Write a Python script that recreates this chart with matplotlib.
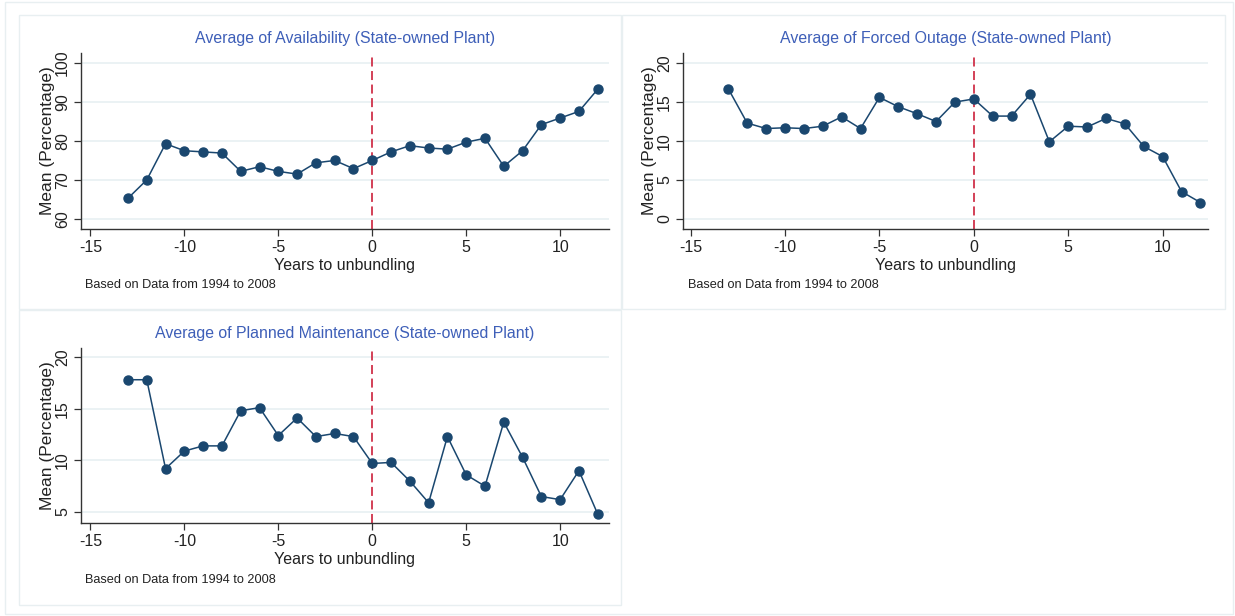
import matplotlib
matplotlib.use("Agg")
import matplotlib.pyplot as plt
from matplotlib.patches import Rectangle

plt.rcParams['font.family'] = ['Liberation Sans', 'DejaVu Sans']
plt.rcParams['axes.unicode_minus'] = False

years = list(range(-13, 13))

availability = [65.3, 70.0, 79.3, 77.5, 77.2, 76.9, 72.2, 73.4, 72.2, 71.5,
                74.4, 75.0, 72.9, 75.0, 77.2, 78.8, 78.2, 77.9, 79.7, 80.7,
                73.5, 77.5, 84.2, 85.9, 87.6, 93.3]

forced_outage = [16.7, 12.3, 11.6, 11.7, 11.6, 11.9, 13.1, 11.6, 15.6, 14.4,
                 13.5, 12.5, 15.0, 15.4, 13.2, 13.2, 16.0, 9.9, 11.9, 11.8,
                 12.9, 12.2, 9.3, 8.0, 3.5, 2.1]

planned_maint = [17.8, 17.8, 9.2, 10.9, 11.4, 11.4, 14.8, 15.1, 12.4, 14.1,
                 12.3, 12.6, 12.3, 9.7, 9.8, 8.0, 5.9, 12.3, 8.6, 7.5,
                 13.7, 10.3, 6.5, 6.2, 9.0, 4.8]

titles = ["Average of Availability (State-owned Plant)",
          "Average of Forced Outage (State-owned Plant)",
          "Average of Planned Maintenance (State-owned Plant)"]
x_ticks = [-15, -10, -5, 0, 5, 10]
y_ticks_list = [[60, 70, 80, 90, 100], [0, 5, 10, 15, 20], [5, 10, 15, 20]]
series = [availability, forced_outage, planned_maint]
note = "Based on Data from 1994 to 2008"

W, H = 1235, 616
fig = plt.figure(figsize=(W / 100, H / 100), dpi=100)

def fx(px):
    return px / W

def fy(py):
    return 1 - py / H

border_col = "#e8eff1"
# outer border
fig.patches.append(Rectangle((fx(5), fy(614)), fx(1228), 612 / H, transform=fig.transFigure,
                             fill=False, edgecolor=border_col, linewidth=1))

# panel boxes (px) and axes boxes (px)
panels = [(19, 15, 621, 309), (622, 15, 1225, 309), (19, 310, 621, 605)]
axes_boxes = [(81, 53, 609, 229), (683, 53, 1208, 229), (81, 348, 609, 523)]
ylims = [(57.4, 102.6), (-1.3, 21.3), (3.94, 20.87)]
xlims = [(-15.5, 12.6), (-15.4, 12.4), (-15.5, 12.6)]

title_col = "#3e5fb8"
navy = "#1a476f"
red = "#d0324a"
grid_col = "#e8f0f2"
spine_col = "#333333"

for i in range(3):
    px0, py0, px1, py1 = panels[i]
    fig.patches.append(Rectangle((fx(px0), fy(py1)), (px1 - px0) / W, (py1 - py0) / H,
                                 transform=fig.transFigure, fill=False,
                                 edgecolor=border_col, linewidth=1))
    ax0, ay0, ax1, ay1 = axes_boxes[i]
    ax = fig.add_axes([fx(ax0), fy(ay1), (ax1 - ax0) / W, (ay1 - ay0) / H])
    ax.plot(years, series[i], color=navy, linewidth=1.1, marker='o',
            markersize=6.5, markerfacecolor=navy, markeredgecolor=navy, zorder=3)
    ax.axvline(0, color=red, linewidth=1.3, dashes=(5, 2.5), zorder=2)
    ax.set_xlim(*xlims[i])
    ax.set_ylim(*ylims[i])
    ax.set_xticks(x_ticks)
    ax.set_yticks(y_ticks_list[i])
    ax.set_yticklabels([str(v) for v in y_ticks_list[i]], rotation=90, va='center')
    ax.yaxis.grid(True, color=grid_col, linewidth=1.2)
    ax.set_axisbelow(True)
    for s in ['top', 'right']:
        ax.spines[s].set_visible(False)
    for s in ['left', 'bottom']:
        ax.spines[s].set_color(spine_col)
        ax.spines[s].set_linewidth(1.0)
    ax.tick_params(axis='both', direction='out', length=5, width=0.9,
                   color=spine_col, labelsize=11.5, labelcolor='#222222', pad=3)
    ax.set_title(titles[i], color=title_col, fontsize=11.4, pad=7)
    ax.set_xlabel("Years to unbundling", fontsize=11.5, color='#222222', labelpad=2)
    ax.set_ylabel("Mean (Percentage)", fontsize=12.5, color='#222222', labelpad=0)
    fig.text(fx(px0 + 66), fy(py0 + 270), note, fontsize=9.2, color='#222222',
             va='center', ha='left')

fig.savefig("out.png", dpi=100, facecolor='white')
